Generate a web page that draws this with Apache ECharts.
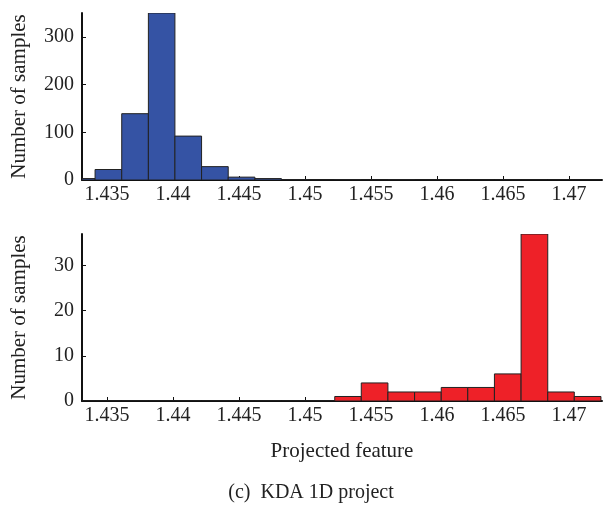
<!DOCTYPE html>
<html>
<head>
<meta charset="utf-8">
<script src="https://cdn.jsdelivr.net/npm/echarts@6/dist/echarts.min.js"></script>
<style>html,body{margin:0;padding:0;background:#fff;}#c{width:607px;height:507px;}</style>
</head>
<body>
<div id="c"></div>
<script>
// Histogram bin edges (21 edges -> 20 bins)
var binEdges = [1.43207, 1.43409, 1.43611, 1.43813, 1.44014, 1.44216, 1.44418, 1.44620, 1.44821, 1.45023,
                1.45225, 1.45426, 1.45628, 1.45830, 1.46032, 1.46233, 1.46435, 1.46637, 1.46839, 1.47040, 1.47242];
// Counts per bin
var topCounts =    [3, 22, 139, 350, 92, 28, 6, 3, 1, 0, 1, 0, 1, 0, 0, 0, 0, 0, 0, 0];
var bottomCounts = [0, 0, 0, 0, 0, 0, 0, 0, 0, 0, 1, 4, 2, 2, 3, 3, 6, 37, 2, 1];
var xTicks = [1.435, 1.44, 1.445, 1.45, 1.455, 1.46, 1.465, 1.47];
var topYTicks = [0, 100, 200, 300];
var bottomYTicks = [0, 10, 20, 30];
var yName = 'Number of samples';
var xName = 'Projected feature';
var caption = '(c)  KDA 1D project';

var FONT = '"Liberation Serif", "DejaVu Serif", serif';
function toData(counts) {
  return counts.map(function (c, i) { return [binEdges[i], binEdges[i + 1], c]; });
}
function renderBar(params, api) {
  var p0 = api.coord([api.value(0), api.value(2)]);
  var p1 = api.coord([api.value(1), 0]);
  var shape = echarts.graphic.clipRectByRect(
    { x: p0[0], y: p0[1], width: p1[0] - p0[0], height: p1[1] - p0[1] },
    { x: params.coordSys.x, y: params.coordSys.y, width: params.coordSys.width, height: params.coordSys.height }
  );
  if (!shape) return null;
  return { type: 'rect', shape: shape, style: api.style() };
}
function xAxis(idx, withName) {
  return {
    type: 'value', gridIndex: idx, min: 1.4331, max: 1.4725,
    axisLine: { lineStyle: { color: '#111', width: 2 } },
    axisTick: { inside: true, length: 4, customValues: xTicks, lineStyle: { color: '#111', width: 1 } },
    axisLabel: { customValues: xTicks, color: '#222', fontFamily: FONT, fontSize: 20, margin: 5,
      formatter: function (v) { return String(+v.toFixed(3)); } },
    splitLine: { show: false },
    name: withName ? xName : '', nameLocation: 'middle', nameGap: 40,
    nameTextStyle: { color: '#222', fontFamily: FONT, fontSize: 21 }
  };
}
function yAxis(idx, max, ticks) {
  return {
    type: 'value', gridIndex: idx, min: 0, max: max,
    axisLine: { show: true, lineStyle: { color: '#111', width: 2 } },
    axisTick: { show: true, inside: true, length: 4, customValues: ticks, lineStyle: { color: '#111', width: 1 } },
    axisLabel: { customValues: ticks, color: '#222', fontFamily: FONT, fontSize: 20, margin: 8 },
    splitLine: { show: false },
    name: yName, nameLocation: 'middle', nameGap: 52,
    nameTextStyle: { color: '#222', fontFamily: FONT, fontSize: 21 }
  };
}
var chart = echarts.init(document.getElementById('c'), null, { renderer: 'canvas' });
chart.setOption({
  backgroundColor: '#fff',
  animation: false,
  grid: [
    { left: 82, right: 5, top: 13, height: 167 },
    { left: 82, right: 5, top: 234, height: 167 }
  ],
  xAxis: [xAxis(0, false), xAxis(1, true)],
  yAxis: [yAxis(0, 350, topYTicks), yAxis(1, 37, bottomYTicks)],
  graphic: [{
    type: 'text', x: 311, y: 493,
    style: { text: caption, fill: '#222', font: '20px ' + FONT, textAlign: 'center', textVerticalAlign: 'middle' }
  }],
  series: [
    { type: 'custom', xAxisIndex: 0, yAxisIndex: 0, data: toData(topCounts), renderItem: renderBar,
      itemStyle: { color: '#3553A4', borderColor: '#222', borderWidth: 1 }, clip: true },
    { type: 'custom', xAxisIndex: 1, yAxisIndex: 1, data: toData(bottomCounts), renderItem: renderBar,
      itemStyle: { color: '#EE2128', borderColor: '#222', borderWidth: 1 }, clip: true }
  ]
});
</script>
</body>
</html>
